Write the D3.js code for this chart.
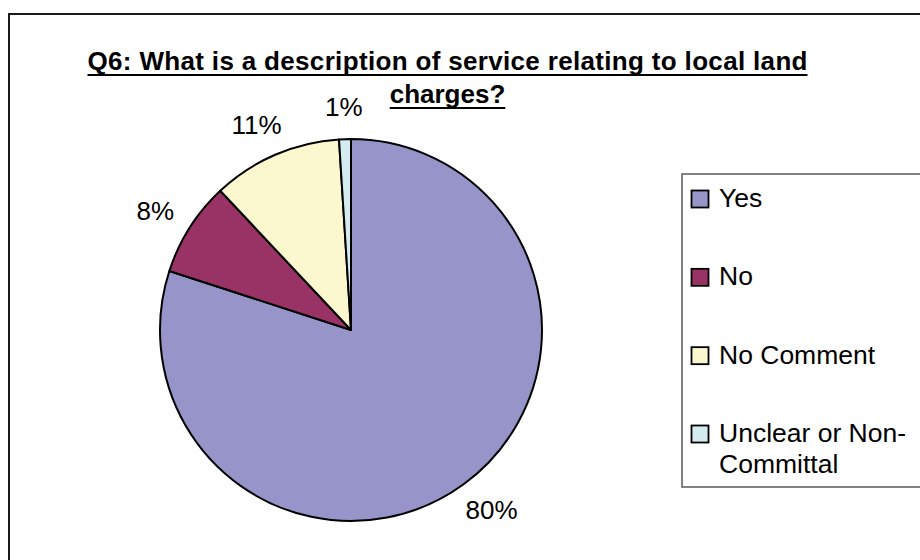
<!DOCTYPE html>
<html>
<head>
<meta charset="utf-8">
<script src="https://cdn.jsdelivr.net/npm/d3@7"></script>
<style>
  html, body { margin: 0; padding: 0; background: #fff; }
  svg { display: block; font-family: "Liberation Sans", Arial, sans-serif; }
</style>
</head>
<body>
<svg id="chart" width="920" height="560"></svg>
<script>
// Survey answers for Q6 (percent of responses)
const categories = ["Yes", "No", "No Comment", "Unclear or Non-Committal"];
const values = [80, 8, 11, 1];
const valueLabels = ["80%", "8%", "11%", "1%"];
const legendLines = [["Yes"], ["No"], ["No Comment"], ["Unclear or Non-", "Committal"]];
const colors = ["#9694c8", "#993366", "#fbf7cf", "#d4ebf0"];
const titleLines = ["Q6: What is a description of service relating to local land", "charges?"];

const svg = d3.select("#chart");

// chart area frame (runs off the right and bottom edges)
svg.append("rect")
  .attr("x", 9).attr("y", 14)
  .attr("width", 1000).attr("height", 1000)
  .attr("fill", "#fff")
  .attr("stroke", "#1a1a1a")
  .attr("stroke-width", 2);

// title, bold and underlined, two centred lines
const titleX = 447.5;
const titleBase = [70, 103];
titleLines.forEach((line, i) => {
  const t = svg.append("text")
    .attr("x", titleX).attr("y", titleBase[i])
    .attr("text-anchor", "middle")
    .attr("font-size", 26)
    .attr("font-weight", "bold")
    .attr("fill", "#000")
    .text(line);
  if (i === 0) t.attr("textLength", 720).attr("lengthAdjust", "spacing");
  const w = i === 0 ? 720 : t.node().getComputedTextLength();
  svg.append("line")
    .attr("x1", titleX - w / 2).attr("x2", titleX + w / 2)
    .attr("y1", titleBase[i] + 5).attr("y2", titleBase[i] + 5)
    .attr("stroke", "#000").attr("stroke-width", 2);
});

// pie
const cx = 351, cy = 330, r = 191;
const pie = d3.pie().sort(null).value(d => d);
const arcs = pie(values);
const arc = d3.arc().innerRadius(0).outerRadius(r);

const g = svg.append("g").attr("transform", `translate(${cx},${cy})`);
g.selectAll("path.slice")
  .data(arcs)
  .join("path")
  .attr("class", "slice")
  .attr("d", arc)
  .attr("fill", (d, i) => colors[i])
  .attr("stroke", "#000")
  .attr("stroke-width", 2)
  .attr("stroke-linejoin", "round");

// value labels just outside each slice
const labelFont = 26;
g.selectAll("text.val")
  .data(arcs)
  .join("text")
  .attr("class", "val")
  .attr("font-size", labelFont)
  .attr("fill", "#000")
  .attr("text-anchor", "middle")
  .text((d, i) => valueLabels[i])
  .each(function(d) {
    const a = (d.startAngle + d.endAngle) / 2;
    const s = Math.sin(a), c = Math.cos(a);
    const w = this.getComputedTextLength();
    const h = 20;
    const rr = r + 22;
    const x = s * rr + s * w / 2;
    const y = -c * rr - c * h / 2;
    d3.select(this).attr("x", x).attr("y", y + 9);
  });

// legend box (runs off the right edge)
const lg = svg.append("g");
lg.append("rect")
  .attr("x", 682).attr("y", 174)
  .attr("width", 400).attr("height", 313)
  .attr("fill", "#fff")
  .attr("stroke", "#5a5a5a")
  .attr("stroke-width", 1.5);

const itemY = d3.scalePoint().domain(categories).range([207, 442]);
categories.forEach((cat, i) => {
  const base = itemY(cat);
  lg.append("rect")
    .attr("x", 691.5).attr("y", base - 16.5)
    .attr("width", 17).attr("height", 17)
    .attr("fill", colors[i])
    .attr("stroke", "#000")
    .attr("stroke-width", 1.8);
  const t = lg.append("text")
    .attr("x", 719).attr("y", base)
    .attr("font-size", 26.5)
    .attr("fill", "#000");
  legendLines[i].forEach((ln, j) => {
    t.append("tspan").attr("x", 719).attr("y", base + j * 31).text(ln);
  });
});
</script>
</body>
</html>
